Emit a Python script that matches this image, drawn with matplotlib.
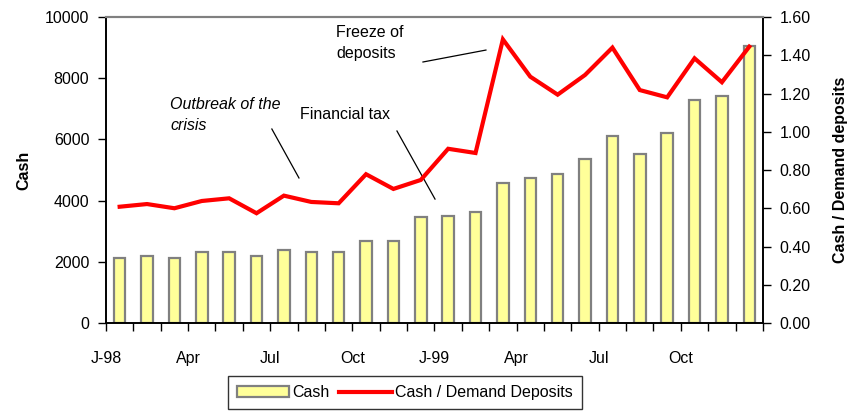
import matplotlib
matplotlib.use("Agg")
import matplotlib.pyplot as plt
import numpy as np

plt.rcParams['font.family'] = ['Liberation Sans', 'DejaVu Sans']

# monthly data, Jan-98 .. Dec-99
cash = [2134, 2200, 2134, 2330, 2310, 2190, 2375, 2330, 2320, 2670, 2690, 3464,
        3507, 3617, 4575, 4728, 4880, 5360, 6100, 5533, 6220, 7300, 7418, 9052]
ratio = [0.608, 0.622, 0.600, 0.638, 0.652, 0.574, 0.666, 0.633, 0.626, 0.778, 0.701, 0.748,
         0.911, 0.889, 1.483, 1.288, 1.194, 1.297, 1.440, 1.218, 1.180, 1.384, 1.259, 1.445]
tick_labels = ['J-98', 'Apr', 'Jul', 'Oct', 'J-99', 'Apr', 'Jul', 'Oct']

x = np.arange(len(cash))

fig = plt.figure(figsize=(8.47, 4.19), dpi=100)
ax = fig.add_axes([0.1251, 0.2291, 0.7757, 0.7303])
ax2 = ax.twinx()

bars = ax.bar(x, cash, width=0.42, color='#FFFF99', edgecolor='#808080', linewidth=1.6,
              label='Cash', zorder=2)
line, = ax2.plot(x, ratio, color='#FF0000', lw=3, label='Cash / Demand Deposits',
                 solid_joinstyle='miter')

ax.set_xlim(-0.5, len(cash) - 0.5)
ax.set_ylim(0, 10000)
ax2.set_ylim(0, 1.6)
ax.set_yticks(np.arange(0, 10001, 2000))
ax2.set_yticks(np.arange(0, 1.61, 0.2))
ax2.set_yticklabels(['%.2f' % v for v in np.arange(0, 1.61, 0.2)])

ax.set_xticks(np.arange(len(tick_labels)) * 3 - 0.5)
ax.set_xticklabels(tick_labels)
ax.set_xticks(np.arange(len(cash) + 1) - 0.5, minor=True)
ax.tick_params(axis='x', which='both', direction='out', length=6, width=1, pad=14,
               labelsize=11.5)
ax.tick_params(axis='y', direction='out', length=6, width=1, pad=6, labelsize=11.5)
ax2.tick_params(axis='y', direction='out', length=6, width=1, pad=6, labelsize=11.5)

for a in (ax, ax2):
    a.spines['top'].set_color('#808080')
    a.spines['top'].set_linewidth(1.5)
    a.spines['left'].set_linewidth(1.2)
    a.spines['right'].set_linewidth(1.2)
    a.spines['bottom'].set_linewidth(1.2)

ax.set_ylabel('Cash', fontsize=11.5, fontweight='bold', labelpad=10)
ax2.set_ylabel('Cash / Demand deposits', fontsize=11.5, fontweight='bold', labelpad=16)

# annotations (left-axis data coordinates)
ax.text(1.84, 6800, 'Outbreak of the\ncrisis', fontsize=11.5, style='italic',
        va='center', linespacing=1.5)
ax.plot([5.56, 6.55], [6340, 4740], color='black', lw=0.9)
ax.text(6.59, 6800, 'Financial tax', fontsize=11.5, va='center')
ax.plot([10.13, 11.52], [6275, 4050], color='black', lw=0.9)
ax.text(7.9, 9150, 'Freeze of\ndeposits', fontsize=11.5, va='center', linespacing=1.5)
ax.plot([11.08, 13.38], [8530, 8920], color='black', lw=0.9)

leg = fig.legend([bars, line], ['Cash', 'Cash / Demand Deposits'], loc='lower center',
                 bbox_to_anchor=(0.478, 0.005), ncol=2, frameon=True, fancybox=False,
                 fontsize=11.5, handlelength=3.3, columnspacing=0.6, handletextpad=0.2,
                 borderpad=0.55)
leg.get_frame().set_edgecolor('black')
leg.get_frame().set_linewidth(1)

fig.savefig('out.png', dpi=100)
